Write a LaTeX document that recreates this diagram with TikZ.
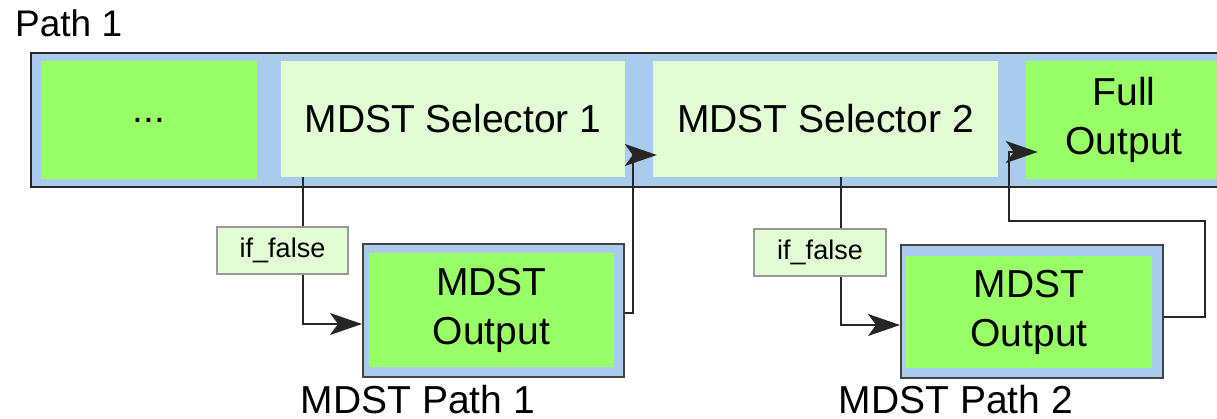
\documentclass[tikz,border=0pt]{standalone}
\usepackage{fontspec}
\setmainfont{Liberation Sans}
\usetikzlibrary{arrows.meta}
\definecolor{paneblue}{HTML}{A9CBEC}
\definecolor{hotgreen}{HTML}{99FF66}
\definecolor{palegreen}{HTML}{E2FCD4}
\definecolor{edgegray}{HTML}{444444}
\newcommand\txtbig{\fontsize{39}{49}\selectfont}
\newcommand\txtsmall{\fontsize{27}{32}\selectfont}
\begin{document}
\begin{tikzpicture}[x=1pt,y=-1pt,
  lane/.style={draw=black!85, line width=2.8pt, fill=paneblue, inner sep=0pt},
  hot/.style={fill=hotgreen, inner sep=0pt, font=\txtbig, align=center},
  pale/.style={fill=palegreen, inner sep=0pt, font=\txtbig},
  cond/.style={fill=palegreen, draw=black!40, line width=1.2pt, inner sep=0pt, font=\txtsmall},
  outbox/.style={fill=paneblue, draw=edgegray, line width=2pt, inner sep=0pt},
  caption/.style={inner sep=0pt, font=\txtbig},
  flow/.style={draw=black!85, line width=1.8pt, -{Stealth[length=32pt,width=22pt,inset=8pt]}},
]
\useasboundingbox (0,0) rectangle (1217,419);
\clip (0,0) rectangle (1217,419);

% main path lane and its stages
\node[lane, minimum width=1214, minimum height=134] (lane) at (638,120) {};
\node[hot, minimum width=216, minimum height=118] (dots) at (149,120) {...};
\node[pale, minimum width=344, minimum height=116] (sel1) at (453,119) {MDST Selector 1};
\node[pale, minimum width=345, minimum height=116] (sel2) at (825.5,119) {MDST Selector 2};
\node[hot, minimum width=196, minimum height=118] (full) at (1124,120) {Full\\Output};
\node[caption, anchor=base west, font=\fontsize{37}{44}\selectfont] (title) at (15,37) {Path 1};

% output sub-paths
\node[outbox, minimum width=261, minimum height=133] (out1) at (493.5,310.5) {};
\node[hot, minimum width=245, minimum height=114] (out1in) at (491.5,310) {MDST\\Output};
\node[caption, anchor=base] (cap1) at (418,413) {MDST Path 1};

\node[outbox, minimum width=262, minimum height=133] (out2) at (1032,311.5) {};
\node[hot, minimum width=246, minimum height=112] (out2in) at (1029,312) {MDST\\Output};
\node[caption, anchor=base] (cap2) at (956,413) {MDST Path 2};

% selector branches
\coordinate (k1) at (303,0);
\coordinate (k2) at (841,0);
\draw[flow] (sel1.south -| k1) |- ([yshift=-13.5pt]out1.west);
\draw[flow] (sel2.south -| k2) |- ([yshift=-13.5pt]out2.west);

% returns into the main path
\draw[flow] ([yshift=-2.5pt]out1.east) -| ([xshift=-20pt,yshift=-36pt]sel2.west)
  -- ([xshift=4pt,yshift=-36pt]sel2.west);
\draw[flow] ([yshift=-5.5pt]out2.east) -- ++(41,0) -- ++(0,-96)
  -| ([xshift=-17pt,yshift=-32pt]full.west) -- ([xshift=12pt,yshift=-32pt]full.west);

% branch conditions
\node[cond, minimum width=131, minimum height=47] (if1) at (282.5,250.5) {if\_false};
\node[cond, minimum width=132, minimum height=47] (if2) at (820,252.5) {if\_false};
\end{tikzpicture}
\end{document}
